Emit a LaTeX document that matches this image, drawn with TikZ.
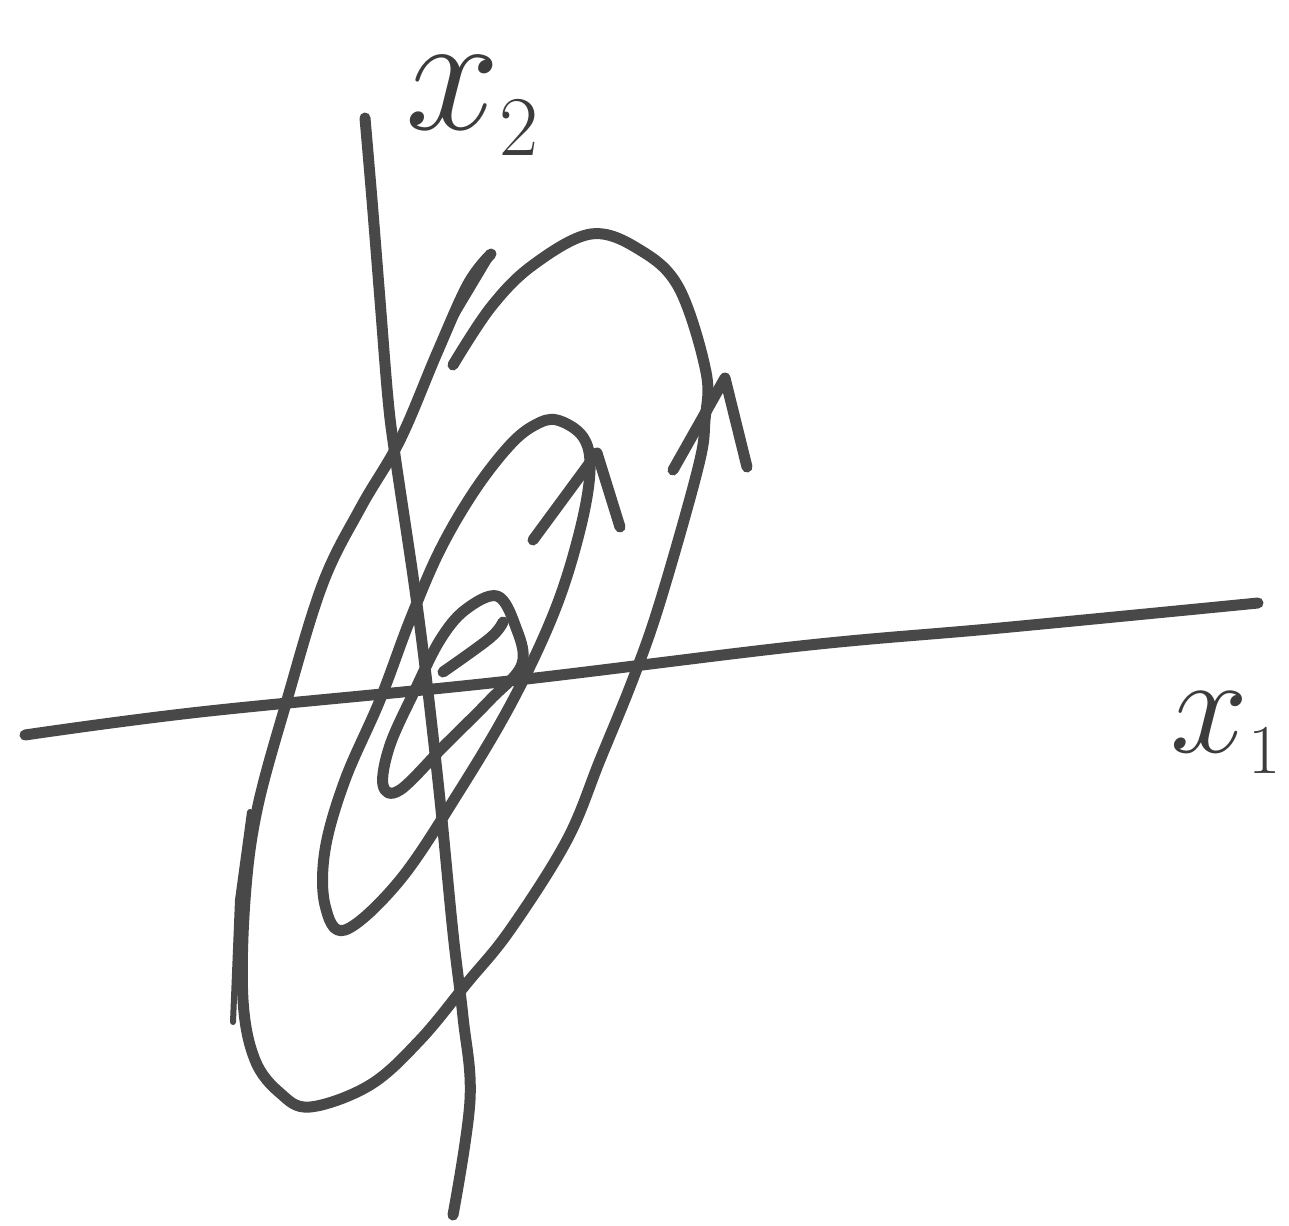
\RequirePackage{fix-cm}
\documentclass[tikz,border=0pt]{standalone}
\begin{document}
\begin{tikzpicture}[x=1pt,y=-1pt,
  ink/.style={draw={rgb,255:red,72;green,72;blue,72},line width=11pt,line cap=round,line join=round},
  thinink/.style={ink,line width=6pt},
  lbl/.style={text={rgb,255:red,60;green,60;blue,60},inner sep=0pt,anchor=base west}]
\useasboundingbox (0,0) rectangle (1289,1225);
% axes
\draw[ink] plot[smooth,tension=0.6] coordinates {(25,735) (200,712) (500,682) (800,646) (1000,628) (1258,603)};
\draw[ink] plot[smooth,tension=0.6] coordinates {(365,118) (372,200) (380,300) (388,399) (395,455) (414,583) (426,675) (440,800) (453,933) (463,1017) (470,1100) (453,1215)};
% inner loop
\draw[ink] plot[smooth cycle,tension=0.6] coordinates {(497,596) (515,625) (522,664) (490,700) (445,745) (400,790) (383,785) (390,745) (415,690) (440,640) (465,610)};
\draw[ink] plot[smooth,tension=0.6] coordinates {(443,672) (490,638) (503,622)};
% middle loop
\draw[ink] plot[smooth cycle,tension=0.6] coordinates {(557,420) (583,437) (590,470) (580,530) (555,610) (513,700) (460,790) (400,880) (345,930) (325,905) (325,850) (345,780) (380,700) (410,620) (440,550) (475,490) (510,445) (535,425)};
\draw[ink] (533,540) -- (597,453) -- (620,527);
% outer loop
\draw[ink] plot[smooth,tension=0.6] coordinates {(453,365) (491,307) (533,265) (591,234) (640,250) (679,288) (706,372) (705,420) (698,468) (660,602) (633,679) (600,760) (567,840) (510,930) (467,983) (420,1040) (370,1085) (310,1107) (280,1093) (255,1060) (243,1000) (245,900) (257,810) (287,700) (323,583) (361,507) (400,440) (437,353) (468,284) (491,254)};
\draw[thinink] (447,330) -- (493,253);
\draw[thinink] (233,1022) -- (238,900) -- (250,812);
\draw[ink] (673,470) -- (725,378) -- (747,467);
% labels
\node[lbl,font=\fontsize{170}{170}\selectfont] (xtwo) at (405,130) {$x_{\scriptscriptstyle 2}$};
\node[lbl,font=\fontsize{140}{140}\selectfont] (xone) at (1170,752) {$x_{\scriptscriptstyle 1}$};
\end{tikzpicture}
\end{document}
